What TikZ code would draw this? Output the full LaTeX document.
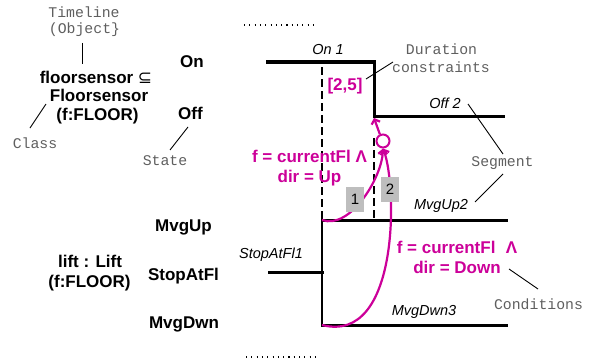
\documentclass[tikz,border=0pt]{standalone}
\usepackage{fontspec}
\setmainfont{Liberation Sans}
\newfontfamily\monof{Liberation Mono}
\newfontfamily\symf{DejaVu Sans}
\usetikzlibrary{arrows.meta}
\definecolor{mag}{RGB}{204,0,153}
\definecolor{notegray}{RGB}{95,95,95}
\definecolor{boxgray}{RGB}{190,190,190}

\begin{document}
\begin{tikzpicture}[x=1pt,y=-1pt,
  every node/.style={inner sep=0pt, anchor=base},
  lbl/.style={font=\fontsize{17}{19}\selectfont\bfseries},
  seglbl/.style={font=\fontsize{14.5}{17}\selectfont\itshape},
  note/.style={font=\fontsize{14.8}{17}\selectfont\monof, text=notegray},
  cond/.style={font=\fontsize{17}{19}\selectfont\bfseries, text=mag},
  stateline/.style={line width=3pt, line cap=rect},
  guide/.style={line width=1.4pt, dash pattern=on 8pt off 4pt},
  pointer/.style={line width=0.9pt},
  dots/.style={line width=1.1pt, dash pattern=on 1.1pt off 4.2pt},
  flow/.style={mag, line width=2.2pt, -{Straight Barb[length=4pt,width=9pt]}},
  numbox/.style={fill=boxgray, minimum width=18pt, minimum height=25pt,
    anchor=center, font=\fontsize{15}{17}\selectfont},
]
\useasboundingbox (0,0) rectangle (591,361);

% ---- ellipsis marks ----
\coordinate (dtA) at (244,25);  \coordinate (dtB) at (314,25);
\coordinate (dbA) at (246,357); \coordinate (dbB) at (316,357);
\draw[dots] (dtA) -- (dtB);
\draw[dots] (dbA) -- (dbB);

% ---- left headers ----
\node[note] (tl)  at (84,17.5) {Timeline};
\node[note] (tlo) at (84.5,33.5) {(Object\}};
\node[lbl] (fs1) at (96,83.3) {floorsensor {\symf\mdseries ⊆}};
\node[lbl] (fs2) at (99,101.7) {Floorsensor};
\node[lbl] (fs3) at (97.5,120) {(f:FLOOR)};
\node[note] (cls) at (35,148) {Class};

\node[lbl] (lift1) at (90,267) {lift : Lift};
\node[lbl] (lift2) at (89.5,287) {(f:FLOOR)};

% ---- state names ----
\node[lbl] (sOn)   at (192,67)  {On};
\node[lbl] (sOff)  at (190.5,119) {Off};
\node[note] (stn)  at (165,165) {State};
\node[lbl] (sUp)   at (183.5,231) {MvgUp};
\node[lbl] (sStop) at (183.5,280) {StopAtFl};
\node[lbl] (sDwn)  at (184,328) {MvgDwn};

% ---- annotation pointers ----
\coordinate (pTa) at (82,43);   \coordinate (pTb) at (82,64);
\coordinate (pCa) at (46,104);  \coordinate (pCb) at (30,128);
\coordinate (pSa) at (188,127); \coordinate (pSb) at (170,150);
\draw[pointer] (pTa) -- (pTb);
\draw[pointer] (pCa) -- (pCb);
\draw[pointer] (pSa) -- (pSb);

% ---- floorsensor timeline ----
\coordinate (on0) at (267,62);  \coordinate (on1) at (374,62);
\coordinate (off0) at (374,116); \coordinate (off1) at (503,116);
\draw[stateline] (on0) -- (on1) -- (off0) -- (off1);
\node[seglbl] (seg1) at (328,55) {On 1};
\node[seglbl] (seg2) at (445,108) {Off 2};

% ---- lift timeline ----
\coordinate (up0) at (322,220);  \coordinate (up1) at (506,220);
\coordinate (st0) at (269,272);  \coordinate (st1) at (322,272);
\coordinate (dn0) at (322,325);  \coordinate (dn1) at (506,325);
\draw[stateline] (up0) -- (up1);
\draw[stateline] (st0) -- (st1);
\draw[line width=2.6pt] (up0) -- (dn0);
\draw[stateline] (dn0) -- (dn1);
\node[seglbl] (seg3) at (271,258) {StopAtFl1};
\node[seglbl] (seg4) at (441,209) {MvgUp2};
\node[seglbl] (seg5) at (424,315) {MvgDwn3};

% ---- time guides ----
\coordinate (g1a) at (322,67);  \coordinate (g1b) at (322,220);
\coordinate (g2a) at (374,138); \coordinate (g2b) at (374,220);
\draw[guide] (g1a) -- (g1b);
\draw[guide] (g2a) -- (g2b);

% ---- duration constraint ----
\node[cond] (dur) at (345,90) {[2,5]};
\node[note] (durn1) at (441.5,55) {Duration};
\node[note] (durn2) at (441,72.7) {constraints};
\coordinate (pDa) at (366,79); \coordinate (pDb) at (393,62);
\draw[pointer] (pDa) -- (pDb);

% ---- segment notes ----
\node[note] (segn) at (502.5,166) {Segment};
\coordinate (pG1a) at (468,104); \coordinate (pG1b) at (503,154);
\coordinate (pG2a) at (503,174); \coordinate (pG2b) at (475,202);
\draw[pointer] (pG1a) -- (pG1b);
\draw[pointer] (pG2a) -- (pG2b);

% ---- conditions ----
\node[cond] (c1a) at (309.5,162) {f = currentFl Λ};
\node[cond] (c1b) at (309.5,182) {dir = Up};
\node[cond] (c2a) at (457,253) {f = currentFl\,\, Λ};
\node[cond] (c2b) at (457,273) {dir = Down};
\node[note] (condn) at (538.5,309) {Conditions};
\coordinate (pKa) at (509,269); \coordinate (pKb) at (538,289);
\draw[pointer] (pKa) -- (pKb);

% ---- junction and transition arrows ----
\node[draw=mag, line width=2pt, circle, minimum size=13pt, anchor=center] (jn) at (383,141) {};
\coordinate (tgt) at (374,118);
\draw[flow] (jn.115) -- (tgt);
\draw[flow] (up0) .. controls (350,230) and (382,178) .. (jn.south);
\draw[flow] (dn0) .. controls (400,345) and (397,185) .. (jn.south);

\node[numbox] (n1) at (355,199.5) {1};
\node[numbox] (n2) at (390,189.5) {2};
\end{tikzpicture}
\end{document}
